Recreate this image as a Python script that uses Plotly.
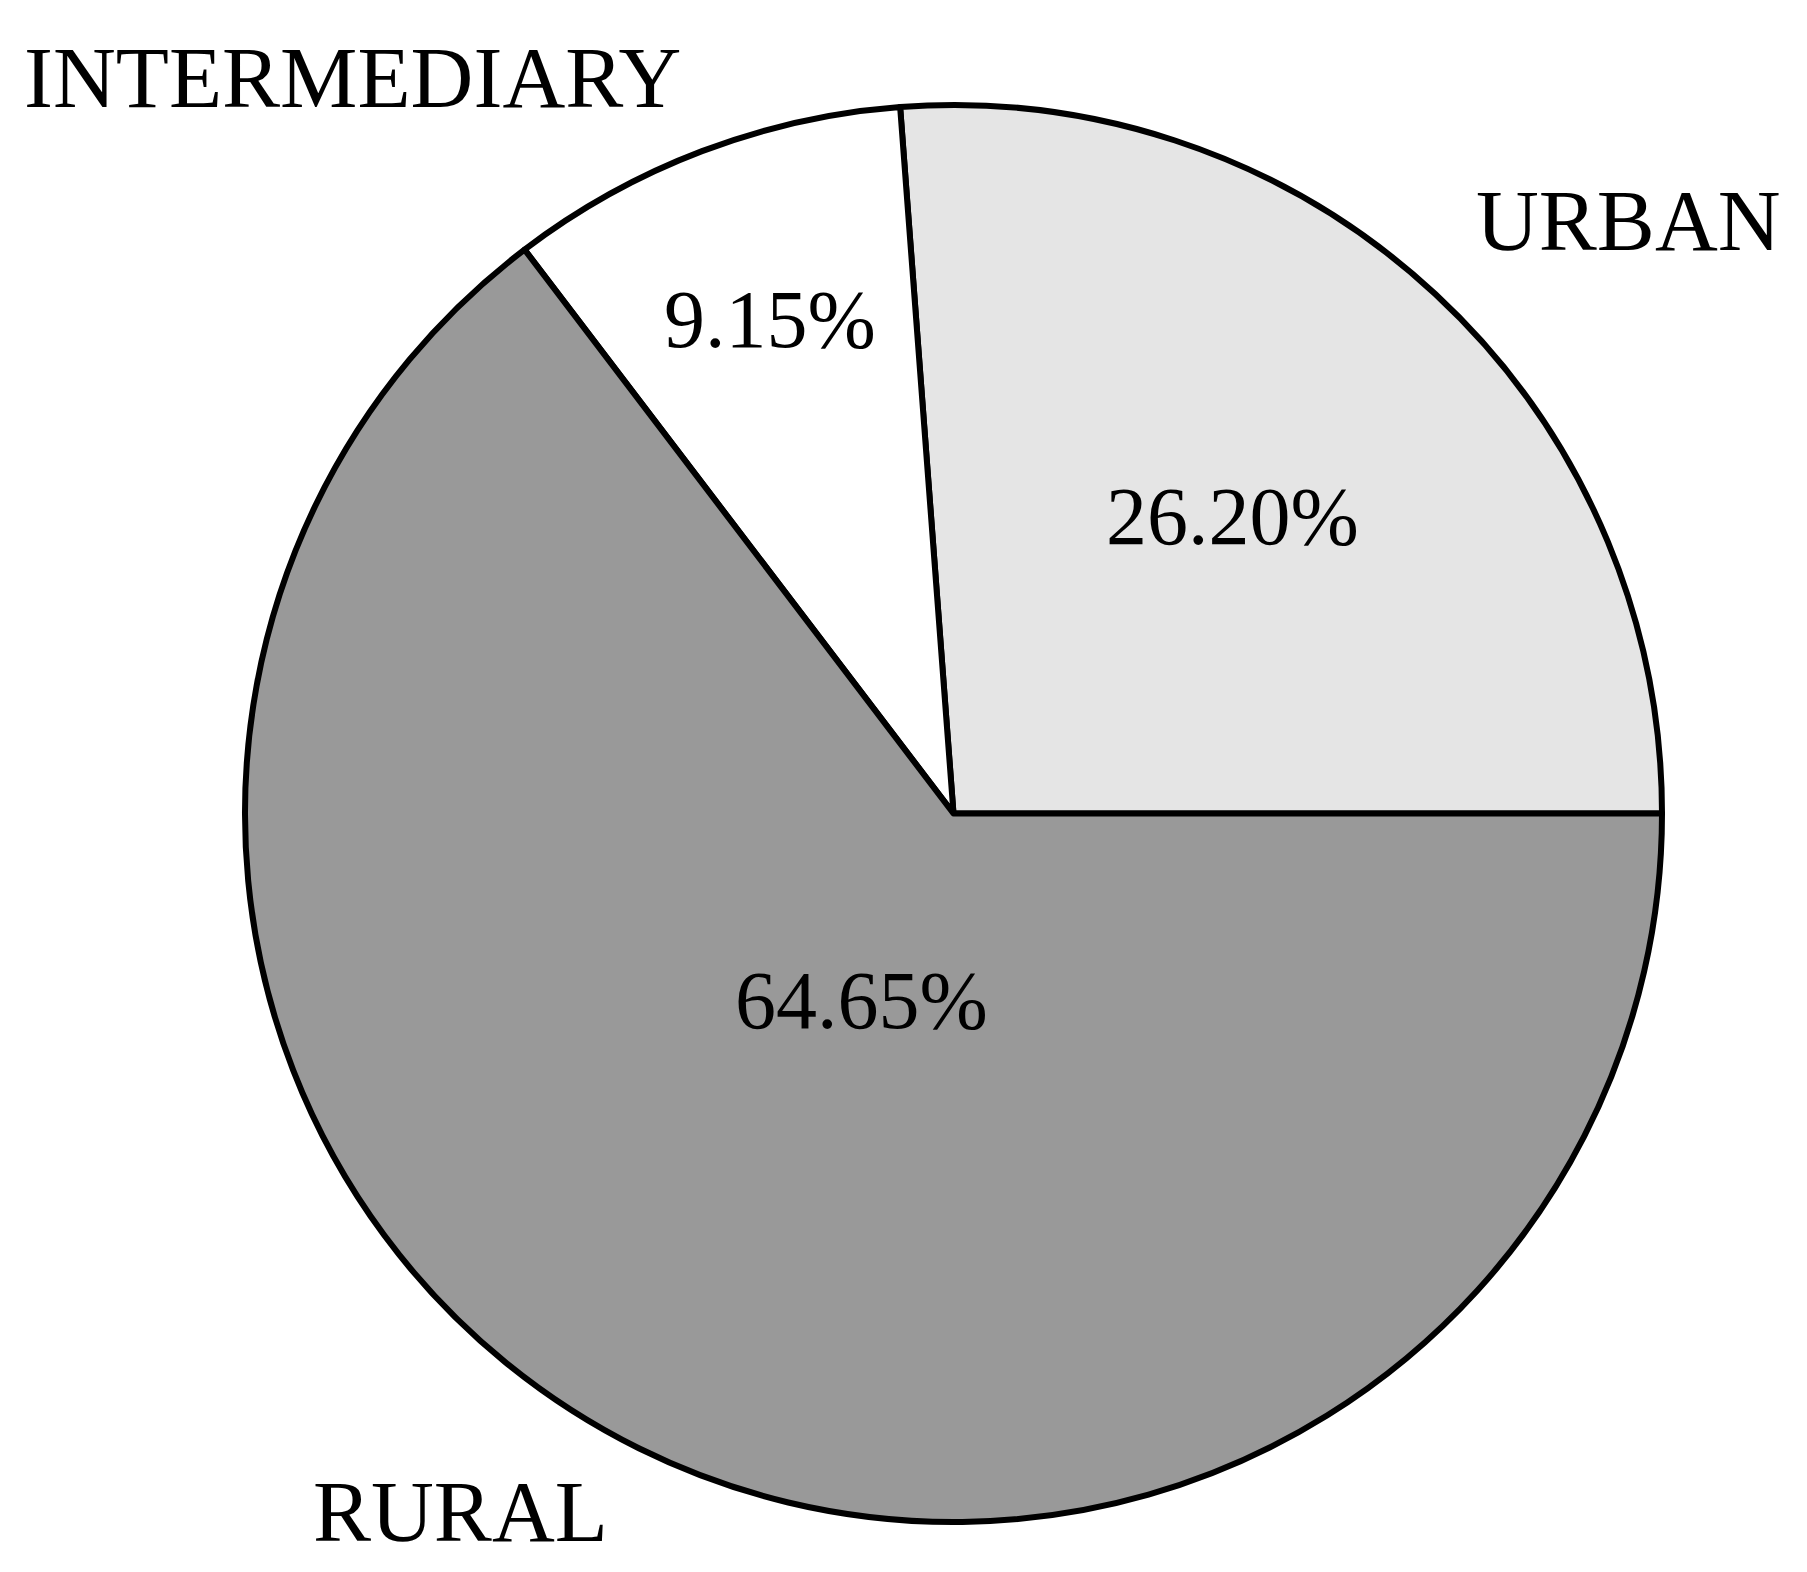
import plotly.graph_objects as go

categories = ["URBAN", "INTERMEDIARY", "RURAL"]
shares = [26.20, 9.15, 64.65]
colors = ["#e5e5e5", "#ffffff", "#999999"]

W, H = 1807, 1572
FONT = "Liberation Serif"

fig = go.Figure(go.Pie(
    labels=categories,
    values=shares,
    sort=False,
    direction="counterclockwise",
    rotation=-4.32,
    marker=dict(colors=colors, line=dict(color="black", width=6)),
    textinfo="none",
    hoverinfo="label+percent",
    domain=dict(x=[237 / W, 1654 / W], y=[1 - 1514 / H, 1 - 97 / H]),
    showlegend=False,
))

# label positions (pixels) for category names and percentages
name_pos = {"URBAN": (1620, 212, "center"), "INTERMEDIARY": (14, 70, "left"), "RURAL": (452, 1503, "center")}
pct_pos = {"URBAN": (1224, 508), "INTERMEDIARY": (762, 311), "RURAL": (853, 992)}

ann = []
for cat, val in zip(categories, shares):
    x, y, anc = name_pos[cat]
    ann.append(dict(text=cat, x=x / W, y=1 - y / H, xref="paper", yref="paper",
                    xanchor=anc, yanchor="middle", showarrow=False,
                    font=dict(family=FONT, size=87, color="black")))
    px_, py_ = pct_pos[cat]
    ann.append(dict(text=f"{val:.2f}%", x=px_ / W, y=1 - py_ / H, xref="paper", yref="paper",
                    xanchor="center", yanchor="middle", showarrow=False,
                    font=dict(family=FONT, size=82, color="black")))

fig.update_layout(width=W, height=H, margin=dict(l=0, r=0, t=0, b=0),
                  paper_bgcolor="white", plot_bgcolor="white", annotations=ann)
fig.write_html("out.html")
